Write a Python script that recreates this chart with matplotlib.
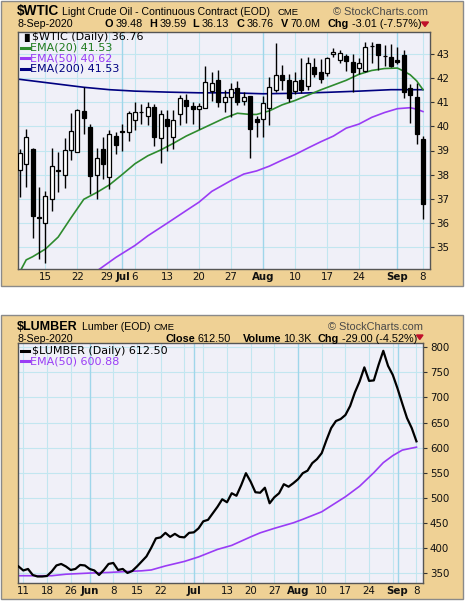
import matplotlib
matplotlib.use('Agg')
import matplotlib.pyplot as plt
from matplotlib.patches import Rectangle, Polygon
import matplotlib.transforms as mtransforms

W, H = 465, 601

# ---------------- data : WTIC (trading-day index 0 = 9-Jun-2020) ----------------
wtic_open = [38.18, 38.45, 39.07, 36.25, 36.0, 37.0, 38.2, 37.97, 39.0, 38.95,
             40.64, 39.96, 38.0, 39.05, 37.9, 39.6, 39.8, 39.78, 40.27, 40.62,
             40.43, 40.82, 39.54, 40.3, 39.55, 40.51, 41.12, 40.85, 40.72, 40.75,
             41.49, 41.93, 41.0, 41.24, 41.58, 41.07, 41.26, 40.31, 40.33, 40.75,
             41.51, 42.14, 41.93, 41.47, 41.93, 41.7, 42.49, 42.28, 42.21, 43.0,
             42.78, 42.93, 42.69, 42.42, 42.3, 43.35, 43.43, 42.95, 42.88, 42.78,
             42.97, 41.58, 41.21, 39.48]
wtic_high = [39.05, 39.9, 39.1, 37.5, 37.3, 39.1, 38.94, 39.5, 40.55, 40.72,
             41.63, 40.1, 39.1, 39.57, 39.85, 39.75, 40.1, 40.65, 41.0, 40.95,
             41.0, 40.95, 40.7, 40.7, 40.68, 41.3, 41.35, 41.0, 40.97, 42.5,
             42.28, 42.33, 41.5, 41.8, 41.9, 41.45, 41.28, 40.45, 41.25, 42.05,
             43.47, 42.55, 42.2, 42.28, 42.85, 42.9, 42.85, 42.8, 42.88, 43.25,
             43.2, 43.0, 43.0, 42.83, 43.5, 43.52, 43.45, 43.4, 43.45, 43.3,
             43.18, 41.75, 41.8, 39.59]
wtic_low = [37.07, 37.5, 35.35, 34.5, 34.33, 36.5, 37.28, 37.45, 38.6, 38.95,
            39.7, 37.2, 37.0, 37.8, 37.4, 38.85, 39.0, 39.4, 39.85, 40.1,
            40.05, 39.18, 38.5, 39.0, 39.05, 40.05, 40.15, 40.1, 39.9, 40.75,
            41.05, 40.82, 40.62, 40.4, 40.9, 40.9, 38.67, 39.57, 39.55, 40.06,
            41.44, 41.5, 41.0, 41.37, 41.4, 41.5, 42.05, 41.8, 42.1, 42.9,
            42.65, 42.3, 41.45, 42.2, 42.28, 42.62, 42.35, 42.5, 42.48, 42.6,
            41.17, 40.13, 39.27, 36.13]
wtic_close = [38.88, 39.55, 36.28, 36.18, 37.1, 38.35, 38.15, 39.0, 39.82, 40.68,
              40.34, 37.95, 38.67, 38.45, 39.67, 39.22, 39.76, 40.58, 40.61, 40.6,
              40.82, 39.57, 40.5, 40.02, 40.27, 41.17, 40.86, 40.72, 40.87, 41.86,
              41.82, 41.0, 41.24, 41.54, 41.0, 41.21, 39.88, 40.2, 40.96, 41.65,
              42.14, 41.93, 41.17, 41.9, 41.52, 42.62, 42.2, 41.96, 42.83, 43.08,
              43.05, 42.73, 42.28, 42.62, 43.29, 43.33, 42.97, 42.92, 42.52, 42.7,
              41.45, 41.3, 39.68, 36.76]
# EMA readings (trading-day index, value)
ema20_idx = [0, 1, 2, 4, 6, 8, 10, 12, 14, 16, 18, 20, 22, 24, 26, 28, 30, 32, 34,
             36, 37, 39, 41, 43, 45, 47, 49, 51, 53, 55, 57, 59, 60, 61, 62, 63]
ema20_val = [33.95, 34.45, 34.58, 34.9, 35.4, 36.2, 36.97, 37.25, 37.57, 38.0, 38.45,
             38.78, 39.02, 39.3, 39.6, 39.85, 40.1, 40.35, 40.55, 40.5, 40.5, 40.65,
             40.9, 41.08, 41.3, 41.52, 41.72, 41.92, 42.17, 42.33, 42.41, 42.43, 42.3,
             42.15, 41.9, 41.53]
ema50_idx = [11, 12, 13, 15, 18, 20, 23, 26, 28, 30, 33, 35, 37, 39, 41, 43, 45, 47,
             49, 51, 53, 55, 57, 59, 61, 62, 63]
ema50_val = [33.8, 33.98, 34.17, 34.55, 35.05, 35.45, 35.97, 36.5, 36.85, 37.3, 37.75,
             38.02, 38.15, 38.35, 38.6, 38.83, 39.1, 39.36, 39.6, 39.93, 40.1, 40.38,
             40.58, 40.74, 40.78, 40.72, 40.62]
ema200_idx = [0, 10, 14, 18, 23, 28, 33, 38, 43, 48, 53, 58, 63]
ema200_val = [41.96, 41.63, 41.53, 41.47, 41.43, 41.40, 41.40, 41.36, 41.38, 41.42,
              41.47, 41.53, 41.53]
wtic_tick_idx = [4, 9, 14, 16, 18, 23, 28, 33, 38, 43, 48, 53, 59, 63]
wtic_tick_lbl = ['15', '22', '29', 'Jul', '6', '13', '20', '27', 'Aug', '10', '17',
                 '24', 'Sep', '8']
wtic_yticks = [35, 36, 37, 38, 39, 40, 41, 42, 43]

# ---------------- data : LUMBER (trading-day index 0 = 8-May-2020) ----------------
lumber_close = [363, 355, 358, 346, 343, 343, 344, 353, 365, 368,
                363, 356, 358, 366, 365, 358, 355, 346, 356, 368,
                370, 356, 358, 350, 354, 363, 373, 383, 400, 419,
                421, 430, 422, 428, 422, 421, 430, 431, 439, 453,
                456, 469, 482, 497, 491, 509, 504, 525, 549, 532,
                511, 510, 520, 489, 501, 509, 527, 522, 529, 537,
                549, 554, 569, 577, 589, 615, 639, 653, 657, 665,
                683, 710, 732, 760, 733, 734, 765, 793, 763, 745,
                718, 688, 659, 639, 612.5]
lumber_ema_idx = [0, 7, 10, 15, 19, 23, 26, 28, 31, 35, 38, 42, 45, 49, 51, 54, 58,
                  60, 64, 67, 69, 72, 75, 77, 79, 81, 83, 84]
lumber_ema_val = [344.5, 344.5, 347.5, 349.8, 351, 353, 354.3, 356, 364, 373, 382,
                  397, 405, 422, 430, 439, 450, 457, 472, 490, 502, 523, 550, 570,
                  584, 595, 599, 600.88]
lumber_tick_idx = [1, 6, 11, 15, 20, 25, 30, 37, 44, 49, 54, 59, 64, 69, 74, 80, 84]
lumber_tick_lbl = ['11', '18', '26', 'Jun', '8', '15', '22', 'Jul', '13', '20', '27',
                   'Aug', '10', '17', '24', 'Sep', '8']
lumber_grid_extra = [35, 39, 79]
lumber_yticks = [350, 400, 450, 500, 550, 600, 650, 700, 750, 800]

# ---------------- styling ----------------
TAN = '#EFD195'
PLOTBG = '#F0F0F8'
GRID = '#C2E6F0'
MGRID = '#9FD6EA'
FRAME = '#555555'
GREEN = '#2E8B2E'
PURPLE = '#9A3CF5'
NAVY = '#000080'
RED = '#C0102A'
HF = 'Liberation Sans'
plt.rcParams['font.family'] = ['DejaVu Sans']

fig = plt.figure(figsize=(W / 100, H / 100), dpi=100)
fig.patch.set_facecolor('white')


def px_rect(x0, y0, x1, y1):
    return [x0 / W, 1 - y1 / H, (x1 - x0) / W, (y1 - y0) / H]


for (x0, y0, x1, y1) in [(1, 1, 463, 286), (1, 315, 463, 599)]:
    fig.patches.append(Rectangle((x0 / W, 1 - y1 / H), (x1 - x0) / W, (y1 - y0) / H,
                                 transform=fig.transFigure, facecolor=TAN,
                                 edgecolor='#8A8A8A', linewidth=1.0, zorder=-5))


def ftext(x, y, s, **kw):
    kw.setdefault('va', 'baseline')
    return fig.text(x / W, 1 - y / H, s, **kw)


def triangle(x0, x1, y0, y1):
    fig.patches.append(Polygon([[x0 / W, 1 - y0 / H], [x1 / W, 1 - y0 / H],
                                [(x0 + x1) / 2 / W, 1 - y1 / H]], closed=True,
                               transform=fig.transFigure, color=RED))


def style_axes(ax, yticks, xlim, ylim):
    ax.set_facecolor(PLOTBG)
    ax.set_xlim(*xlim)
    ax.set_ylim(*ylim)
    for sp in ax.spines.values():
        sp.set_color(FRAME)
        sp.set_linewidth(1.0)
    ax.yaxis.tick_right()
    ax.set_yticks(yticks)
    ax.set_yticklabels([str(v) for v in yticks])
    ax.tick_params(axis='y', direction='out', length=3, width=0.8, color='#333333',
                   labelsize=7.4, pad=2, labelcolor='#111111')
    ax.set_xticks([])
    for v in yticks:
        ax.axhline(v, color=GRID, lw=0.8, zorder=0.5)


def date_labels(ax, idxs, lbls, grid_extra=(), nudge=None):
    nudge = nudge or {}
    for i, l in zip(idxs, lbls):
        bold = l in ('Jun', 'Jul', 'Aug', 'Sep')
        ax.axvline(i, color=MGRID if bold else GRID, lw=1.0 if bold else 0.8, zorder=0.5)
        dx = nudge.get(l, 0)
        trans = mtransforms.blended_transform_factory(ax.transData, ax.transAxes) + \
            mtransforms.ScaledTranslation(dx / 100, 0, fig.dpi_scale_trans)
        ax.text(i, -0.014, l, transform=trans, ha='center', va='top', fontsize=7.4,
                fontweight='bold' if bold else 'normal', color='#111111', clip_on=False)
    for i in grid_extra:
        ax.axvline(i, color=GRID, lw=0.8, zorder=0.5)


def header_values(items, y):
    # items: (x of value, bold label, value text)
    for x, lab, val in items:
        ftext(x - 2.5, y, lab, fontsize=7.8, fontweight='bold', ha='right', family=HF)
        ftext(x, y, val, fontsize=7.8, family=HF)


# ================= TOP PANEL =================
ax1 = fig.add_axes(px_rect(17.5, 32, 429.7, 269))
style_axes(ax1, wtic_yticks, (-0.36, 64.05), (34.07, 43.93))
date_labels(ax1, wtic_tick_idx, wtic_tick_lbl, nudge={'29': -2.5, 'Jul': 0.5})

xs = list(range(len(wtic_close)))
ax1.vlines(xs, wtic_low, wtic_high, color='black', lw=1.0, zorder=3)
bodies_b = [min(o, c) for o, c in zip(wtic_open, wtic_close)]
bodies_h = [max(abs(c - o), 0.015) for o, c in zip(wtic_open, wtic_close)]
cols = ['white' if c >= o else 'black' for o, c in zip(wtic_open, wtic_close)]
ax1.bar(xs, bodies_h, bottom=bodies_b, width=0.62, color=cols, edgecolor='black',
        linewidth=0.9, zorder=4)
ax1.plot(ema200_idx, ema200_val, color=NAVY, lw=1.2, zorder=2)
ax1.plot(ema50_idx, ema50_val, color=PURPLE, lw=1.2, zorder=2)
ax1.plot(ema20_idx, ema20_val, color=GREEN, lw=1.2, zorder=2)

lg = [('$WTIC (Daily) 36.76', 'black', None),
      ('EMA(20) 41.53', '#1E7B1E', GREEN),
      ('EMA(50) 40.62', PURPLE, PURPLE),
      ('EMA(200) 41.53', NAVY, NAVY)]
for k, (s, tc, lc) in enumerate(lg):
    y = 37 + k * 10.6
    if lc is None:
        ftext(21, y, '\u2590\u258c', fontsize=5.5, va='center', color='black')
        ftext(32, y, s, fontsize=8, va='center', color=tc)
    else:
        fig.lines.append(plt.Line2D([21 / W, 29 / W], [1 - y / H, 1 - y / H],
                                    transform=fig.transFigure, color=lc, lw=2.2))
        ftext(30, y, s, fontsize=8, va='center', color=tc)

# header (top)
ftext(17, 15, '$WTIC', fontsize=9.8, fontweight='bold', family=HF)
ftext(62, 15, 'Light Crude Oil - Continuous Contract (EOD)', fontsize=7.6, family=HF)
ftext(277, 15, 'CME', fontsize=6.8, family=HF)
ftext(428, 15, '\u00a9 StockCharts.com', fontsize=7.9, ha='right', color='#4A4A4A',
      family=HF)
ftext(17, 27.3, '8-Sep-2020', fontsize=7.7, family=HF)
header_values([(115.5, 'O', '39.48'), (160, 'H', '39.59'), (201.5, 'L', '36.13'),
               (247, 'C', '36.76'), (290.5, 'V', '70.0M'), (351.5, 'Chg', '-3.01 (-7.57%)')],
              27.3)
triangle(421.5, 428.5, 22, 26.5)

# ================= BOTTOM PANEL =================
ax2 = fig.add_axes(px_rect(17.5, 343, 423, 583))
style_axes(ax2, lumber_yticks, (-0.22, 85.38), (330, 808.6))
date_labels(ax2, lumber_tick_idx, lumber_tick_lbl, lumber_grid_extra)
ax2.plot(lumber_ema_idx, lumber_ema_val, color=PURPLE, lw=1.2, zorder=2)
ax2.plot(range(len(lumber_close)), lumber_close, color='black', lw=1.6, zorder=3)

lg2 = [('$LUMBER (Daily) 612.50', 'black', 'black'),
       ('EMA(50) 600.88', PURPLE, PURPLE)]
for k, (s, tc, lc) in enumerate(lg2):
    y = 350.5 + k * 10.6
    fig.lines.append(plt.Line2D([21 / W, 29 / W], [1 - y / H, 1 - y / H],
                                transform=fig.transFigure, color=lc, lw=2.2))
    ftext(30 if k else 32, y, s, fontsize=8, va='center', color=tc)

ftext(17, 329.5, '$LUMBER', fontsize=9.0, fontweight='bold', family=HF)
ftext(81.5, 329.5, 'Lumber (EOD)', fontsize=7.6, family=HF)
ftext(153, 329.5, 'CME', fontsize=6.8, family=HF)
ftext(423, 329.5, '\u00a9 StockCharts.com', fontsize=7.9, ha='right', color='#4A4A4A',
      family=HF)
ftext(17, 341.5, '8-Sep-2020', fontsize=7.7, family=HF)
header_values([(197.5, 'Close', '612.50'), (283.5, 'Volume', '10.3K'),
               (341.5, 'Chg', '-29.00 (-4.52%)')], 341.5)
triangle(416.5, 423, 335, 339.5)

fig.savefig('out.png', dpi=100, facecolor='white')
